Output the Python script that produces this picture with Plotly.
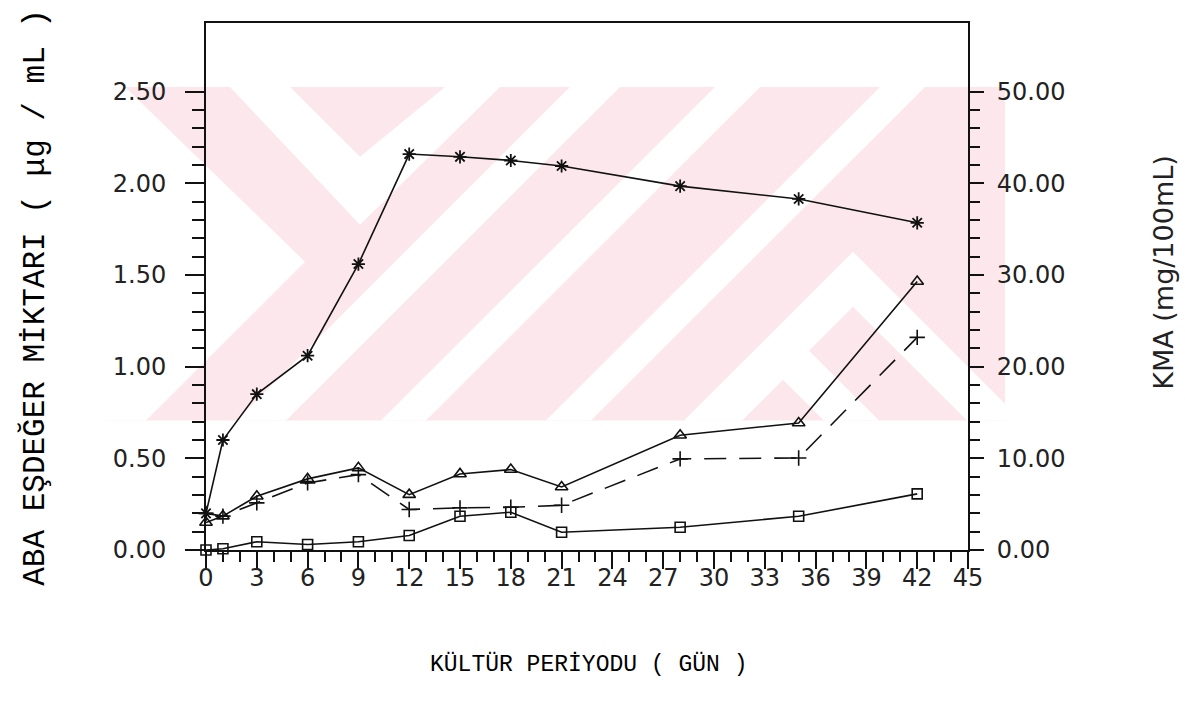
import plotly.graph_objects as go

# ---------------- data ----------------
days = [0, 1, 3, 6, 9, 12, 15, 18, 21, 28, 35, 42]

# KMA (mg/100mL)  -> right axis, asterisk markers
kma = [4.0, 12.0, 17.0, 21.2, 31.2, 43.2, 42.9, 42.5, 41.9, 39.7, 38.3, 35.7]
# ABA equivalent amounts (ug/mL) -> left axis
aba_triangle = [0.15, 0.185, 0.293, 0.388, 0.448, 0.302, 0.415, 0.439, 0.344, 0.626, 0.693, 1.465]
aba_plus = [0.20, 0.185, 0.257, 0.366, 0.411, 0.221, 0.230, 0.233, 0.244, 0.497, 0.502, 1.160]
aba_square = [0.0, 0.007, 0.045, 0.030, 0.045, 0.079, 0.184, 0.206, 0.097, 0.124, 0.184, 0.306]

x_ticks = list(range(0, 46, 3))
left_ticks = [0.0, 0.5, 1.0, 1.5, 2.0, 2.5]
right_ticks = [0, 10, 20, 30, 40, 50]

# ---------------- geometry ----------------
W, H = 1185, 709
PL, PR, PT, PB = 206, 968, 23, 550.5
PW, PH = PR - PL, PB - PT


def px(x):
    return (x - PL) / PW


def py(y):
    return (PB - y) / PH


def path(points):
    return "M " + " L ".join(f"{px(a):.5f},{py(b):.5f}" for a, b in points) + " Z"


# background watermark (pink stripes)
PINK = "#fce8ec"
shapes = []
TOPW, BOTW = 87, 421
shapes.append(dict(type="path", xref="paper", yref="paper", layer="below",
                   path=path([(105, TOPW), (1005, TOPW), (1005, BOTW), (105, BOTW)]),
                   fillcolor=PINK, line=dict(width=0)))
whites = []
whites.append([(105, TOPW), (125, TOPW), (305, 262), (146, BOTW), (105, BOTW)])
whites.append([(230, TOPW), (290, TOPW), (360, 157), (445, TOPW), (500, TOPW), (360, 225)])
for a, b in [(570, 620), (715, 760), (880, 925)]:
    t = BOTW - TOPW
    whites.append([(a, TOPW), (b, TOPW), (b - t, BOTW), (a - t, BOTW)])
for ax, ay in [(853, 252), (783, 325)]:
    h = 55
    d = BOTW - ay
    pts = [(ax - d, BOTW), (ax, ay)]
    if ax + d > 1005:
        pts += [(1005, ay + (1005 - ax)), (1005, BOTW)]
    else:
        pts += [(ax + d, BOTW)]
    pts += [(ax + d - h, BOTW), (ax, ay + h), (ax - d + h, BOTW)]
    whites.append(pts)
for pts in whites:
    shapes.append(dict(type="path", xref="paper", yref="paper", layer="below",
                       path=path(pts), fillcolor="white", line=dict(width=0)))

BLACK = "#111111"
fig = go.Figure()
fig.add_trace(go.Scatter(x=days, y=kma, yaxis="y2", mode="lines+markers", name="KMA",
                         line=dict(color=BLACK, width=1.6),
                         marker=dict(symbol="asterisk-open", size=11, color=BLACK,
                                     line=dict(color=BLACK, width=1.8)),
                         cliponaxis=False))
fig.add_trace(go.Scatter(x=days, y=aba_triangle, mode="lines+markers", name="triangle",
                         line=dict(color=BLACK, width=1.6),
                         marker=dict(symbol="triangle-up-open", size=11, color=BLACK,
                                     line=dict(color=BLACK, width=1.6)),
                         cliponaxis=False))
fig.add_trace(go.Scatter(x=days, y=aba_plus, mode="lines+markers", name="plus",
                         line=dict(color=BLACK, width=1.6, dash="22px,13px"),
                         marker=dict(symbol="cross-thin-open", size=11, color=BLACK,
                                     line=dict(color=BLACK, width=1.6)),
                         cliponaxis=False))
fig.add_trace(go.Scatter(x=days, y=aba_square, mode="lines+markers", name="square",
                         line=dict(color=BLACK, width=1.6),
                         marker=dict(symbol="square-open", size=10, color=BLACK,
                                     line=dict(color=BLACK, width=1.6)),
                         cliponaxis=False))

tickfont = dict(family="DejaVu Sans", size=24, color="#222222")
mono = "Liberation Mono"

fig.update_layout(
    width=W, height=H,
    margin=dict(l=PL, r=W - PR, t=PT, b=H - PB, autoexpand=False),
    paper_bgcolor="white", plot_bgcolor="rgba(0,0,0,0)",
    showlegend=False,
    shapes=shapes,
    xaxis=dict(range=[0, 45], tickmode="array", tickvals=x_ticks, ticktext=[str(v) for v in x_ticks],
               showgrid=False, zeroline=False, showline=True, linecolor=BLACK, linewidth=2,
               mirror=True, ticks="outside", ticklen=17, tickwidth=1.8, tickcolor=BLACK,
               tickfont=tickfont, ticklabelstandoff=-12,
               minor=dict(tickmode="array", tickvals=list(range(0, 46)), ticks="outside",
                          ticklen=10, tickwidth=1.5, tickcolor=BLACK, showgrid=False)),
    yaxis=dict(range=[0, 2.875], tickmode="array", tickvals=left_ticks,
               ticktext=[f"{v:.2f}" for v in left_ticks],
               showgrid=False, zeroline=False, showline=True, linecolor=BLACK, linewidth=2,
               ticks="outside", ticklen=19, tickwidth=1.8, tickcolor=BLACK,
               tickfont=tickfont, ticklabelstandoff=14,
               minor=dict(tickmode="array", tickvals=[i / 10 for i in range(0, 26)], ticks="outside",
                          ticklen=12, tickwidth=1.5, tickcolor=BLACK, showgrid=False)),
    yaxis2=dict(range=[0, 57.5], overlaying="y", side="right", tickmode="array", tickvals=right_ticks,
                ticktext=[f"{v:.2f}" for v in right_ticks],
                showgrid=False, zeroline=False, showline=True, linecolor=BLACK, linewidth=2,
                ticks="outside", ticklen=14, tickwidth=1.8, tickcolor=BLACK,
                tickfont=tickfont, ticklabelstandoff=8,
                minor=dict(tickmode="array", tickvals=list(range(0, 51, 2)), ticks="outside",
                           ticklen=10, tickwidth=1.5, tickcolor=BLACK, showgrid=False)),
    annotations=[
        dict(text="ABA EŞDEĞER MİKTARI ( μg / mL )", xref="paper", yref="paper",
             x=px(35), y=py(298), xanchor="center", yanchor="middle", textangle=-90,
             showarrow=False, font=dict(family=mono, size=31, color="#000000")),
        dict(text="KÜLTÜR PERİYODU ( GÜN )", xref="paper", yref="paper",
             x=px(588), y=py(665), xanchor="center", yanchor="middle",
             showarrow=False, font=dict(family=mono, size=23, color="#000000")),
        dict(text="KMA (mg/100mL)", xref="paper", yref="paper",
             x=px(1164), y=py(273), xanchor="center", yanchor="middle", textangle=-90,
             showarrow=False, font=dict(family="DejaVu Sans", size=27, color="#222222")),
    ],
)

fig.write_html("out.html", config={"displayModeBar": False},
               post_script="document.body.style.margin='0';document.body.style.overflow='hidden';")
